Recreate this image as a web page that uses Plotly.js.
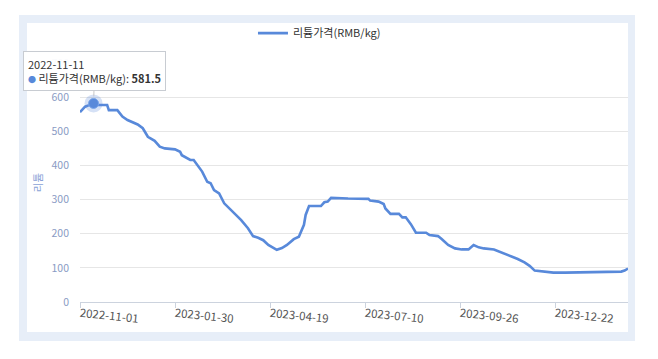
<!DOCTYPE html>
<html>
<head>
<meta charset="utf-8">
<script src="https://cdn.plot.ly/plotly-3.0.1.min.js"></script>
<style>
html,body{margin:0;padding:0;background:#fff;}
#frame{position:absolute;left:19px;top:15px;width:616px;height:326px;background:#e7eef8;}
#inner{position:absolute;left:27px;top:23px;width:601px;height:309px;background:#fff;}
#chart{position:absolute;left:0;top:0;width:658px;height:359px;}
</style>
</head>
<body>
<div id="frame"></div>
<div id="inner"></div>
<div id="chart"></div>
<script>
// trading-day index (category position) and price
const dayIndex = [0,3,5,8,10,16,17,22,25,28,34,37,40,44,47,50,56,59,60,65,67,69,72,75,77,79,82,85,89,90,95,99,102,105,108,111,116,119,122,126,129,132,133,135,142,144,146,148,154,158,170,171,176,179,180,183,188,190,192,195,198,204,206,211,213,217,221,225,229,232,235,238,244,247,250,254,258,262,265,268,274,279,286,309,312,319,321,323];
const price    = [556,572,576,581.5,577,577,562,562,543,533,520,509,484,472,455,450,447,440,430,416,416,401,382,352,348,328,318,289,269,264,240,216,193,188,181,167,153,158,167,184,191,226,255,281,281,292,294,305,305,303,302,297,294,287,274,258,258,248,248,228,203,203,196,193,185,167,157,154,154,167,160,157,154,148,143,133,126,116,106,92,89,86,86,87,89,89,92,98];
const tickIdx  = [0,56,112,168,224,280];
const tickDates = ['2022-11-01','2023-01-30','2023-04-19','2023-07-10','2023-09-26','2023-12-22'];
const lastIdx = 323;
const seriesName = '리튬가격(RMB/kg)';
const yTitle = '리튬';
const hoverIdx = 8, hoverDate = '2022-11-11', hoverVal = 581.5;

const lineColor = '#5889da';
const font = '"Noto Sans CJK KR", "Noto Sans", sans-serif';

const traces = [
  {x: dayIndex, y: price, type: 'scatter', mode: 'lines', name: seriesName,
   line: {color: lineColor, width: 2.6}, hoverinfo: 'skip'},
  {x: [hoverIdx], y: [hoverVal], type: 'scatter', mode: 'markers', showlegend: false,
   marker: {size: 18, color: 'rgba(88,137,218,0.25)'}, hoverinfo: 'skip'},
  {x: [hoverIdx], y: [hoverVal], type: 'scatter', mode: 'markers', showlegend: false,
   marker: {size: 10, color: lineColor, line: {color: '#7aa6ea', width: 1}}, hoverinfo: 'skip'}
];

const layout = {
  width: 658, height: 359,
  margin: {l: 80, r: 30, t: 63, b: 57},
  paper_bgcolor: 'rgba(0,0,0,0)',
  plot_bgcolor: 'rgba(0,0,0,0)',
  font: {family: font, size: 11, color: '#333'},
  showlegend: true,
  legend: {orientation: 'h', x: 0.437, xanchor: 'center', y: 1.125, yanchor: 'middle',
           font: {size: 11, color: '#333'}, bgcolor: 'rgba(0,0,0,0)'},
  xaxis: {range: [0, lastIdx], tickmode: 'array', tickvals: tickIdx, ticktext: tickDates,
          tickangle: 6, showgrid: false, zeroline: false, showline: true, linecolor: '#ccd3de',
          ticks: 'outside', ticklen: 5, tickcolor: '#ccd3de', ticklabelstandoff: -5,
          tickfont: {size: 11.5, color: '#555'}},
  yaxis: {range: [0, 700], dtick: 100, showgrid: true, gridcolor: '#e6e6e6', zeroline: false,
          showline: false, ticks: '', ticklabelstandoff: 10,
          tickfont: {size: 10.5, color: '#8a9bc4'},
          title: {text: yTitle, font: {size: 10.5, color: '#8aa2d6'}, standoff: 6}},
  annotations: [{
    x: hoverIdx, y: hoverVal, xref: 'x', yref: 'y',
    text: hoverDate + '<br><span style="color:' + lineColor + ';font-size:8px">●</span> ' + seriesName + ': <b>' + hoverVal + '</b>',
    align: 'left', showarrow: true, ax: 1, ay: -32, arrowhead: 0, arrowwidth: 1,
    arrowcolor: '#c8c8c8', standoff: 7,
    bgcolor: 'rgba(255,255,255,0.95)', bordercolor: '#c8ccd2', borderwidth: 1, borderpad: 4,
    font: {size: 11, color: '#333'}
  }]
};

Plotly.newPlot('chart', traces, layout, {displayModeBar: false, staticPlot: true});
</script>
</body>
</html>
